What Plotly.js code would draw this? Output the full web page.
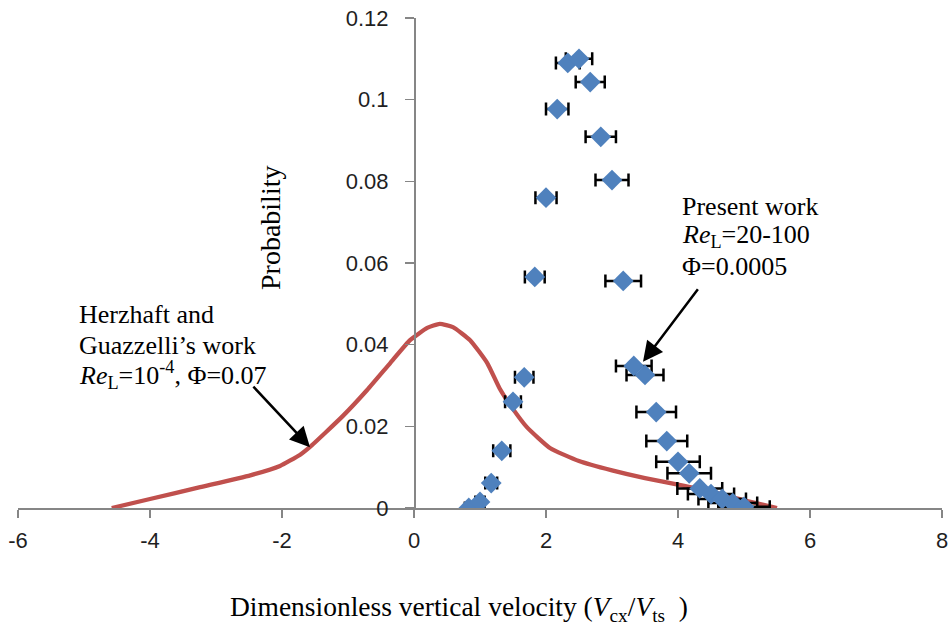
<!DOCTYPE html>
<html>
<head>
<meta charset="utf-8">
<script src="https://cdn.plot.ly/plotly-3.0.1.min.js"></script>
<style>html,body{margin:0;padding:0;background:#fff;}#chart{width:950px;height:628px;}</style>
</head>
<body>
<div id="chart"></div>
<script>
// Herzhaft and Guazzelli's work (red curve)
var curveX = [-4.58, -4.0, -3.24, -2.48, -2.03, -1.73, -1.58, -1.08, -0.71, -0.36, -0.06, 0.20, 0.39, 0.59, 0.85, 1.11, 1.30, 1.48, 1.71, 2.06, 2.5, 3.0, 3.5, 4.0, 4.5, 5.0, 5.5];
var curveY = [0, 0.0022, 0.0051, 0.0080, 0.0103, 0.0130, 0.0149, 0.0225, 0.0289, 0.0355, 0.0411, 0.0441, 0.0451, 0.0443, 0.0411, 0.0355, 0.0292, 0.0247, 0.0198, 0.0147, 0.0115, 0.0092, 0.0073, 0.0057, 0.0040, 0.0019, 0];

// Present work (blue diamonds with horizontal error bars)
var pointsX = [0.83, 1.0, 1.17, 1.33, 1.5, 1.67, 1.83, 2.0, 2.17, 2.33, 2.5, 2.67, 2.83, 3.0, 3.17, 3.33, 3.5, 3.67, 3.83, 4.0, 4.17, 4.33, 4.5, 4.67, 4.83, 5.0];
var pointsY = [0.0, 0.0015, 0.0061, 0.014, 0.026, 0.032, 0.0566, 0.0760, 0.0977, 0.109, 0.110, 0.1043, 0.0909, 0.0803, 0.0556, 0.0348, 0.0326, 0.0235, 0.0164, 0.0113, 0.0085, 0.0048, 0.0034, 0.0022, 0.0012, 0.0003];
var errX = [0.06, 0.07, 0.09, 0.13, 0.12, 0.14, 0.15, 0.16, 0.17, 0.18, 0.2, 0.22, 0.23, 0.25, 0.27, 0.27, 0.28, 0.3, 0.31, 0.33, 0.33, 0.34, 0.35, 0.36, 0.37, 0.39];

// Axis ticks
var xTickVals = [-6, -4, -2, 0, 2, 4, 6, 8];
var xTickText = ['-6', '-4', '-2', '0', '2', '4', '6', '8'];
var yTickVals = [0, 0.02, 0.04, 0.06, 0.08, 0.1, 0.12];
var yTickText = ['0', '0.02', '0.04', '0.06', '0.08', '0.1', '0.12'];

var serif = 'Liberation Serif, Times New Roman, serif';
var axisFont = {family: 'Liberation Sans, Arial, sans-serif', size: 22, color: '#1f1f1f'};

var traces = [
  {
    x: curveX, y: curveY, mode: 'lines', type: 'scatter',
    line: {color: '#C0504D', width: 4.3, shape: 'spline', smoothing: 0.45},
    hoverinfo: 'skip', showlegend: false
  },
  {
    x: pointsX, y: pointsY, mode: 'markers', type: 'scatter',
    marker: {symbol: 'diamond', size: 16, color: '#4F81BD', line: {width: 0}},
    error_x: {type: 'data', array: errX, visible: true, color: '#000000', thickness: 2.5, width: 6.5},
    showlegend: false
  }
];

function line(txt, px, py, anchor) {
  return {xref: 'paper', yref: 'paper', x: (px - 18) / 924, y: (508 - py) / 490,
    xanchor: anchor || 'left', yanchor: 'middle', showarrow: false, text: txt,
    font: {family: serif, size: 26, color: '#000'}};
}

var annotations = [
  line('Herzhaft and', 77, 315),
  line('Guazzelli\u2019s work', 77, 345),
  line('<i>Re</i><sub>L</sub>=10<sup>-4</sup>, \u03A6=0.07', 77, 375),
  line('Present work', 680, 207),
  line('<i>Re</i><sub>L</sub>=20-100', 680, 236),
  line('\u03A6=0.0005', 680, 266),
  {xref: 'x', yref: 'y', x: -1.576, y: 0.0149, ax: -58, ay: -62, text: '', showarrow: true,
   arrowhead: 2, arrowsize: 1.6, arrowwidth: 2.5, arrowcolor: '#000'},
  {xref: 'x', yref: 'y', x: 3.47, y: 0.0358, ax: 56, ay: -74, text: '', showarrow: true,
   arrowhead: 2, arrowsize: 1.6, arrowwidth: 2.5, arrowcolor: '#000'},
  // axis titles
  {xref: 'paper', yref: 'paper', x: (459 - 18) / 924, y: (508 - 608) / 490, xanchor: 'center', yanchor: 'middle',
   showarrow: false, font: {family: serif, size: 27.5, color: '#000'},
   text: 'Dimensionless vertical velocity (<i>V</i><sub>cx</sub>/<i>V</i><sub>ts</sub>  )'},
  {xref: 'paper', yref: 'paper', x: (270 - 18) / 924, y: (508 - 228) / 490, xanchor: 'center', yanchor: 'middle',
   showarrow: false, textangle: -90, font: {family: serif, size: 28, color: '#000'}, text: 'Probability'}
];

var layout = {
  width: 950, height: 628,
  margin: {l: 18, r: 8, t: 18, b: 120},
  paper_bgcolor: '#fff', plot_bgcolor: '#fff',
  showlegend: false,
  xaxis: {
    range: [-6, 8], tickmode: 'array', tickvals: xTickVals, ticktext: xTickText,
    showgrid: false, zeroline: false, showline: true, linecolor: '#868686', linewidth: 1.5,
    ticks: 'outside', ticklen: 8, tickwidth: 1.5, tickcolor: '#868686',
    tickfont: axisFont, ticklabelstandoff: 4, fixedrange: true
  },
  yaxis: {
    range: [0, 0.12], tickmode: 'array', tickvals: yTickVals, ticktext: yTickText,
    anchor: 'free', position: 6 / 14, side: 'left',
    showgrid: false, zeroline: false, showline: true, linecolor: '#868686', linewidth: 1.5,
    ticks: 'outside', ticklen: 9, tickwidth: 1.5, tickcolor: '#868686',
    tickfont: axisFont, ticklabelstandoff: 12, fixedrange: true
  },
  annotations: annotations
};

Plotly.newPlot('chart', traces, layout, {displayModeBar: false, staticPlot: true});
</script>
</body>
</html>
